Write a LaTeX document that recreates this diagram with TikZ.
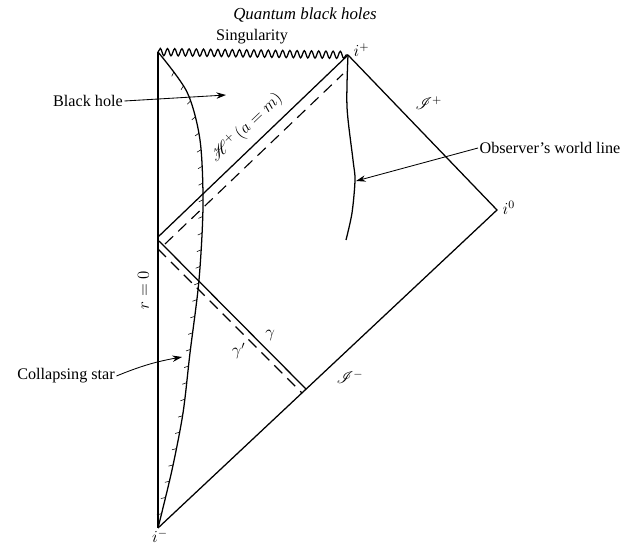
\documentclass[tikz,border=0pt]{standalone}
\usepackage{amsmath,mathrsfs}
\usepackage{fontspec}
\setmainfont{Liberation Serif}
\usepackage{tikz}
\usetikzlibrary{arrows.meta,decorations.pathmorphing,decorations.markings}
\tikzset{
  bnd/.style={line width=0.9pt},
  dsh/.style={line width=0.8pt,dash pattern=on 8pt off 5pt},
  lbl/.style={font=\fontsize{11.5}{13}\selectfont,inner sep=1pt},
  arr/.style={-{Stealth[length=2.4mm,width=1.6mm]},semithick},
  hatch/.style={postaction={decorate,decoration={markings,
    mark=between positions 0.03 and 0.98 step 0.034 with {\draw[thin] (0,0)--(-1.5pt,3pt);}}}},
}
\begin{document}
\begin{tikzpicture}[x=0.025cm,y=-0.025cm]
\useasboundingbox (0,0) rectangle (625,544);
% corners of the diagram
\coordinate (top) at (158,52); \coordinate (ip) at (348,55);
\coordinate (io) at (497,210); \coordinate (im) at (158,528);
\coordinate (hz) at (158,237);
\coordinate (g1) at (159,241); \coordinate (g2) at (306,389);
\coordinate (d1) at (158,249); \coordinate (d2) at (302,393);
\coordinate (h1) at (165,244); \coordinate (h2) at (343,74);
% boundaries
\draw[bnd,decorate,decoration={snake,segment length=0.18cm,amplitude=0.09cm}] (top) -- (ip);
\draw[bnd] (top) -- (im) node[pos=0.5,left=5pt,rotate=90,anchor=south,lbl] (r0) {$r=0$};
\draw[bnd] (ip) -- (io) node[pos=0.4,above right=4pt,lbl] (sp) {$\mathscr{I}^+$} -- (im);
\draw[bnd] (hz) -- (ip) node[pos=0.53,sloped,above=5pt,lbl] (hp) {$\mathscr{H}^+\,(a=m)$};
\draw[dsh] (h1) -- (h2);
\draw[bnd] (g1) -- (g2) node[pos=0.7,above right=1pt,lbl] (ga) {$\gamma$};
\draw[dsh] (d1) -- (d2) node[pos=0.63,below left=1pt,lbl] (gb) {$\gamma'$};
% star surface and observer
\draw[bnd,hatch] plot[smooth] coordinates {(im) (172,470) (183,413) (190,353) (199,280) (203,205) (200,140) (187,92) (top)};
\draw[bnd] plot[smooth] coordinates {(ip) (347,107) (353,160) (355,180) (352,213) (346,240)};
% labels
\node[font=\itshape\fontsize{12}{14}\selectfont] (ttl) at (305,15) {Quantum black holes};
\node[lbl] (sg) at (252,37) {Singularity};
\node[lbl,anchor=south west] (lip) at (352,58) {$i^+$};
\node[lbl,anchor=west] (lio) at (501,208) {$i^0$};
\node[lbl,anchor=north,inner sep=0pt] (lim) at (160,529) {$i^-$};
\node[lbl] (smi) at (350,377) {$\mathscr{I}^-$};
\node[lbl] (bh) at (88,101) {Black hole};
\node[lbl] (cs) at (66,376) {Collapsing star};
\node[lbl,anchor=west] (ow) at (478,148) {Observer's world line};
\coordinate (bht) at (226,95); \coordinate (cst) at (182,357); \coordinate (owt) at (356,181);
\draw[arr] (bh.east) -- (bht);
\draw[arr] (cs.east) to[bend left=6] (cst);
\draw[arr] (ow.west) -- (owt);
\end{tikzpicture}
\end{document}
